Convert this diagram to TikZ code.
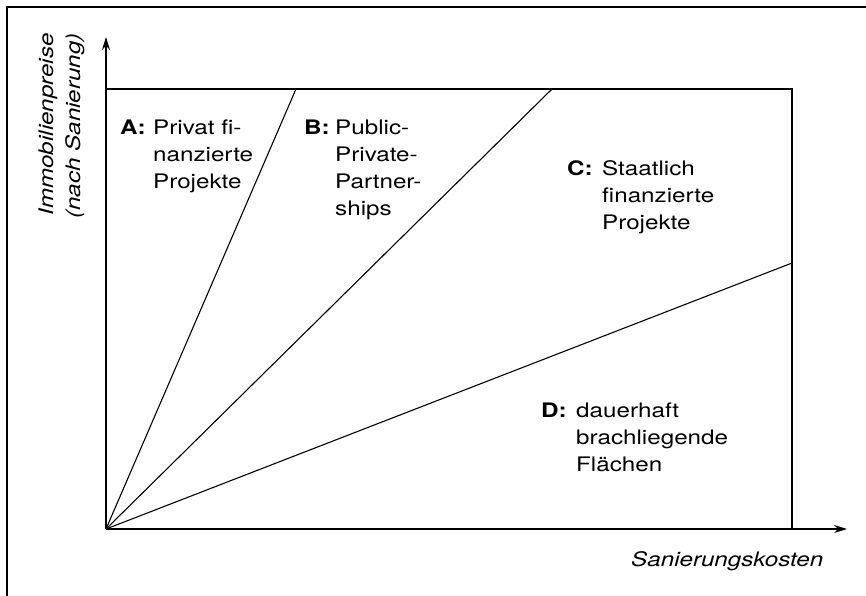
\documentclass[tikz,border=0pt]{standalone}
\usepackage{fontspec}
\setmainfont{TeX Gyre Heros}[FakeStretch=1.21]
\usetikzlibrary{arrows.meta}
\tikzset{
  frameline/.style={line width=1.3pt, line cap=rect},
  axis/.style={line width=1.2pt, -{Stealth[length=13pt,width=8pt]}},
  boxline/.style={line width=1.1pt},
  ray/.style={line width=1.1pt},
  txt/.style={anchor=base west, inner sep=0pt, font=\fontsize{20}{27}\selectfont},
  letter/.style={txt, font=\fontsize{20}{27}\selectfont\bfseries},
  axlab/.style={inner sep=0pt, font=\fontsize{20}{27}\selectfont\itshape}
}
\begin{document}
\begin{tikzpicture}[x=1pt,y=-1pt]
\useasboundingbox (0,0) rectangle (866,595);
% outer frame (top and left only)
\coordinate (fTL) at (7,7);
\coordinate (fTR) at (866,7);
\coordinate (fBL) at (7,595);
\draw[frameline] (fTR) -- (fTL) -- (fBL);
% axes
\coordinate (O) at (106,529);
\coordinate (ytip) at (106,37);
\coordinate (xtip) at (847,529);
\draw[axis] (O) -- (ytip);
\draw[axis] (O) -- (xtip);
% box
\coordinate (bTL) at (106,89);
\coordinate (bTR) at (792,89);
\coordinate (bBR) at (792,529);
\draw[boxline] (bTL) -- (bTR) -- (bBR);
% rays
\coordinate (rA) at (296,89);
\coordinate (rB) at (552,89);
\coordinate (rC) at (792,263);
\draw[ray] (O) -- (rA);
\draw[ray] (O) -- (rB);
\draw[ray] (O) -- (rC);
% labels
\node[letter] (lA) at (120,134) {A:};
\node[txt] (tA) at (153,134) {\begin{tabular}[t]{@{}l@{}}Privat fi-\\nanzierte\\Projekte\end{tabular}};
\node[letter] (lB) at (304,134) {B:};
\node[txt] (tB) at (335,134) {\begin{tabular}[t]{@{}l@{}}Public-\\Private-\\Partner-\\ships\end{tabular}};
\node[letter] (lC) at (567,175) {C:};
\node[txt] (tC) at (602,175) {\begin{tabular}[t]{@{}l@{}}Staatlich\\finanzierte\\Projekte\end{tabular}};
\node[letter] (lD) at (541,417) {D:};
\node[txt] (tD) at (576,417) {\begin{tabular}[t]{@{}l@{}}dauerhaft\\brachliegende\\Flächen\end{tabular}};
% axis labels
\node[axlab, anchor=base west] (xl) at (631,566) {Sanierungskosten};
\node[axlab, rotate=90, anchor=base east] (yl) at (53,33) {\begin{tabular}[t]{@{}r@{}}Immobilienpreise\\(nach Sanierung)\end{tabular}};
\end{tikzpicture}
\end{document}
